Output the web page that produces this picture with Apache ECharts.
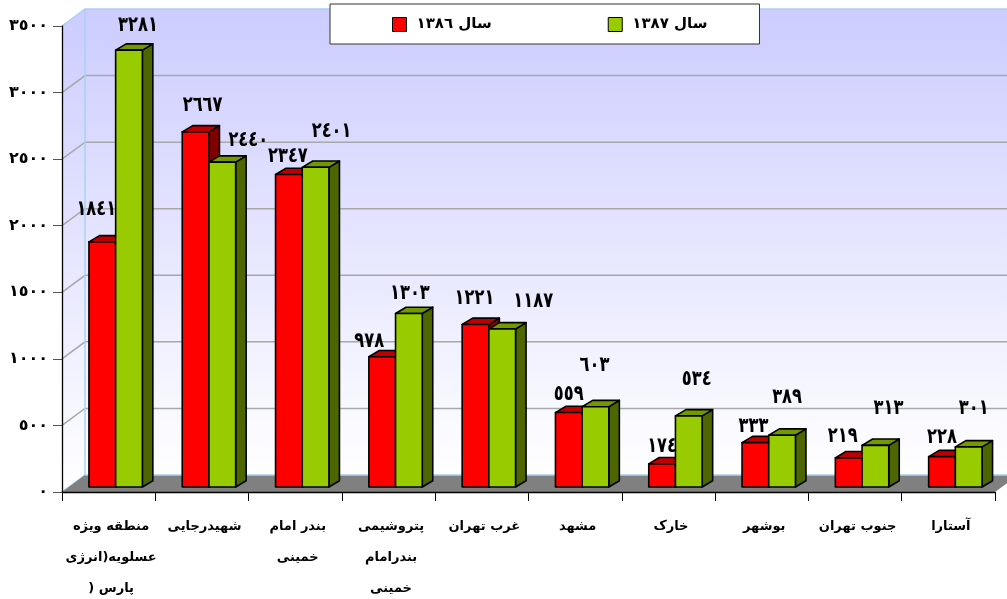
<!DOCTYPE html>
<html>
<head>
<meta charset="utf-8">
<style>html,body{margin:0;padding:0;background:#fff}#c{width:1007px;height:599px}</style>
<script src="https://cdn.jsdelivr.net/npm/echarts@6/dist/echarts.min.js"></script>
</head>
<body>
<div id="c"></div>
<script>
const categories = [
  'منطقه ویژه\nعسلویه(انرژی\n) پارس',
  'شهیدرجایی',
  'بندر امام\nخمینی',
  'پتروشیمی\nبندرامام\nخمینی',
  'غرب تهران',
  'مشهد',
  'خارک',
  'بوشهر',
  'جنوب تهران',
  'آستارا'
];
const seriesNames = ['سال ١٣٨٦', 'سال ١٣٨٧'];
const values1386 = [1841, 2667, 2347, 978, 1221, 559, 174, 333, 219, 228];
const values1387 = [3281, 2440, 2401, 1303, 1187, 603, 534, 389, 313, 301];
// label displacement from the top centre of each bar, as the reference places them
const labelShift1386 = [[-6,-32],[7,-26],[-1,-18],[-13,-15],[-1,-26],[0,-18],[0,-17],[-2,-16],[-6,-21],[0,-19]];
const labelShift1387 = [[9,-25],[26,-22],[16,-36],[1,-20],[31,-27],[-1,-41],[8,-36],[5,-38],[13,-37],[5,-38]];

const FONT = '"DejaVu Sans", sans-serif';
const toArabic = n => String(n).replace(/\d/g, d => '٠١٢٣٤٥٦٧٨٩'[+d]);
const rows = vals => vals.map((v, i) => [i, v]);

const DEPTH_X = 23, DEPTH_Y = 17;      // wall depth
const BAR_W = 26.7, BAR_SHIFT = 7, BAR_LIFT = 5, BAR_DX = 10.5, BAR_DY = 6.3;

function renderWalls(params, api) {
  if (params.dataIndex !== 0) return null;
  const band = api.size([1, 0])[0];
  const x0 = api.coord([0, 0])[0] - band / 2;
  const x1 = api.coord([categories.length - 1, 0])[0] + band / 2;
  const y0 = api.coord([0, 0])[1];
  const yT = api.coord([0, 3500])[1];
  const wallFill = {type:'linear',x:0,y:0,x2:0,y2:1,colorStops:[{offset:0,color:'#ccccff'},{offset:1,color:'#ffffff'}]};
  const edge = '#a6d0f5';
  const kids = [
    {type:'polygon',shape:{points:[[x0+DEPTH_X,yT-DEPTH_Y],[x1+DEPTH_X,yT-DEPTH_Y],[x1+DEPTH_X,y0-DEPTH_Y],[x0+DEPTH_X,y0-DEPTH_Y]]},style:{fill:wallFill}},
    {type:'polygon',shape:{points:[[x0,yT],[x0+DEPTH_X,yT-DEPTH_Y],[x0+DEPTH_X,y0-DEPTH_Y],[x0,y0]]},style:{fill:wallFill}}
  ];
  for (let v = 500; v <= 3000; v += 500) {
    const y = api.coord([0, v])[1];
    kids.push({type:'polyline',shape:{points:[[x0,y],[x0+DEPTH_X,y-DEPTH_Y],[x1+DEPTH_X,y-DEPTH_Y]]},style:{fill:null,stroke:'#a8a8a8',lineWidth:1.5}});
  }
  kids.push(
    {type:'polyline',shape:{points:[[x0,yT],[x0+DEPTH_X,yT-DEPTH_Y],[x1+DEPTH_X,yT-DEPTH_Y]]},style:{fill:null,stroke:edge,lineWidth:1.4}},
    {type:'polyline',shape:{points:[[x0,y0],[x0+DEPTH_X,y0-DEPTH_Y],[x0+DEPTH_X,yT-DEPTH_Y]]},style:{fill:null,stroke:edge,lineWidth:1.4}},
    {type:'polygon',shape:{points:[[x0,y0],[x0+DEPTH_X,y0-DEPTH_Y],[x1+DEPTH_X,y0-DEPTH_Y],[x1,y0]]},style:{fill:'#808080',stroke:null}},
    {type:'line',shape:{x1:x0+DEPTH_X,y1:y0-DEPTH_Y,x2:x1+DEPTH_X,y2:y0-DEPTH_Y},style:{stroke:edge,lineWidth:1.4}}
  );
  return {type:'group',children:kids};
}

function barRenderer(side, front, top, dark, shifts) {
  return function (params, api) {
    const i = api.value(0), v = api.value(1);
    const c = api.coord([i, 0]);
    const t = api.coord([i, v]);
    const left = c[0] + BAR_SHIFT + (side === 0 ? -BAR_W : 0);
    const right = left + BAR_W;
    const yB = c[1] - BAR_LIFT, yT = t[1] - BAR_LIFT;
    const line = {stroke:'#000',lineWidth:1.6,lineJoin:'round'};
    const s = shifts[params.dataIndex];
    return {type:'group',children:[
      {type:'polygon',shape:{points:[[right,yT],[right+BAR_DX,yT-BAR_DY],[right+BAR_DX,yB-BAR_DY],[right,yB]]},style:Object.assign({fill:dark},line)},
      {type:'polygon',shape:{points:[[left,yT],[left+BAR_DX,yT-BAR_DY],[right+BAR_DX,yT-BAR_DY],[right,yT]]},style:Object.assign({fill:top},line)},
      {type:'rect',shape:{x:left,y:yT,width:BAR_W,height:yB-yT},style:Object.assign({fill:front},line)},
      {type:'text',z2:100,x:(left+right)/2+s[0],y:yT+s[1],scaleX:0.96,scaleY:1.25,style:{text:toArabic(v),x:0,y:0,align:'center',verticalAlign:'middle',font:'bold 17px '+FONT,fill:'#000'}}
    ]};
  };
}

const chart = echarts.init(document.getElementById('c'), null, {renderer:'canvas'});
chart.setOption({
  animation:false,
  backgroundColor:'#fff',
  grid:{left:62,right:12,top:26,bottom:107,containLabel:false,outerBoundsMode:'none'},
  legend:{
    left:330,top:4,
    data:seriesNames,
    orient:'horizontal',
    backgroundColor:'#fff',borderColor:'#333',borderWidth:1,
    padding:[13,52,12,62],
    itemGap:116,itemWidth:14,itemHeight:14,
    icon:'rect',
    selectedMode:false,
    textStyle:{fontFamily:FONT,fontWeight:'bold',fontSize:15,color:'#000',padding:[0,0,0,5]},
    itemStyle:{borderColor:'#000',borderWidth:1}
  },
  xAxis:{
    type:'category',data:categories,z:2,
    axisLine:{lineStyle:{color:'#000',width:1.3}},
    axisTick:{show:true,alignWithLabel:false,length:9,lineStyle:{color:'#000'},interval:0},
    axisLabel:{interval:0,margin:19,lineHeight:31,padding:[0,0,0,5],fontFamily:FONT,fontWeight:'bold',fontSize:13,color:'#000',verticalAlign:'top'}
  },
  yAxis:{
    type:'value',min:0,max:3500,interval:500,z:2,
    axisLine:{show:true,lineStyle:{color:'#000',width:1.3}},
    axisTick:{show:true,length:9,lineStyle:{color:'#555'}},
    splitLine:{show:false},
    axisLabel:{margin:14,formatter:v=>toArabic(v),fontFamily:FONT,fontWeight:'bold',fontSize:16,color:'#000'}
  },
  series:[
    {type:'custom',name:'walls',z:1,silent:true,data:rows(values1386),encode:{x:0,y:1},renderItem:renderWalls},
    {type:'custom',name:seriesNames[0],z:3,itemStyle:{color:'#ff0000'},data:rows(values1386),encode:{x:0,y:1},
      renderItem:barRenderer(0,'#ff0000','#c00000','#800000',labelShift1386)},
    {type:'custom',name:seriesNames[1],z:3,itemStyle:{color:'#99cc00'},data:rows(values1387),encode:{x:0,y:1},
      renderItem:barRenderer(1,'#99cc00','#739900','#4d6600',labelShift1387)}
  ]
});
</script>
</body>
</html>
